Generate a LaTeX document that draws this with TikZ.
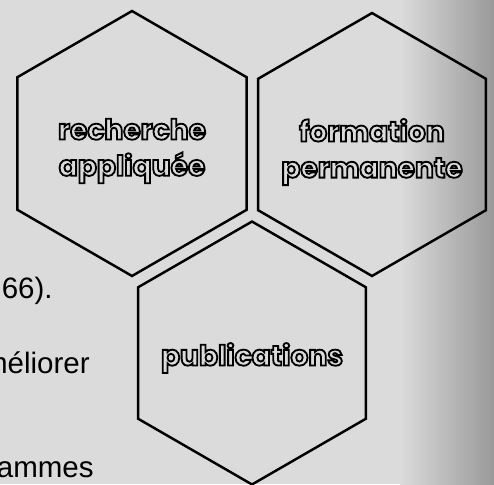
\documentclass[tikz,border=0pt]{standalone}
\usepackage{fontspec}
\usetikzlibrary{shapes.geometric}
\newfontfamily\hexfont{Poppins}[UprightFont=* Bold, FakeBold=6.5]
\newfontfamily\bodyfont{Liberation Sans}
\definecolor{paper}{gray}{0.86}
\definecolor{paperdark}{gray}{0.6}
\newcommand\hollow[1]{\special{pdf:code 0 G}#1}

\begin{document}
\begin{tikzpicture}[
  x=0.02cm, y=-0.02cm,
  hexa/.style={draw, line width=1.4pt, regular polygon, regular polygon sides=6, shape border rotate=90, minimum size=5.26cm, inner sep=0pt, outer sep=0pt},
  hexlabel/.style={align=center, inner sep=0pt, text=paper, font=\hexfont\fontsize{16pt}{20.6pt}\selectfont},
  bodytext/.style={anchor=base east, inner sep=0pt, font=\bodyfont\fontsize{16.8pt}{18pt}\selectfont}
]
\useasboundingbox (0,0) rectangle (494,484);
% paper background, darker towards the right edge
\fill[paper] (0,0) rectangle (494,484);
\shade[left color=paper, right color=paperdark] (400,0) rectangle (494,484);

% text running under the picture
\node[bodytext] (t66) at (53,298) {66).};
\node[bodytext] (tmel) at (90,373) {méliorer};
\node[bodytext] (tram) at (94,477) {rammes};

% the three hexagons
\node[hexa, minimum size=5.3cm] (rech) at (132,143.5) {};
\node[hexa] (form) at (372,144.5) {};
\node[hexa] (publ) at (252,353) {};

\node[hexlabel] (rechtxt) at ([yshift=-0.15cm]rech.center) {\hollow{recherche}\\\hollow{appliquée}};
\node[hexlabel] (formtxt) at ([yshift=-0.15cm]form.center) {\hollow{formation}\\\hollow{permanente}};
\node[hexlabel] (publtxt) at ([yshift=-0.1cm]publ.center) {\hollow{publications}};
\end{tikzpicture}
\end{document}
